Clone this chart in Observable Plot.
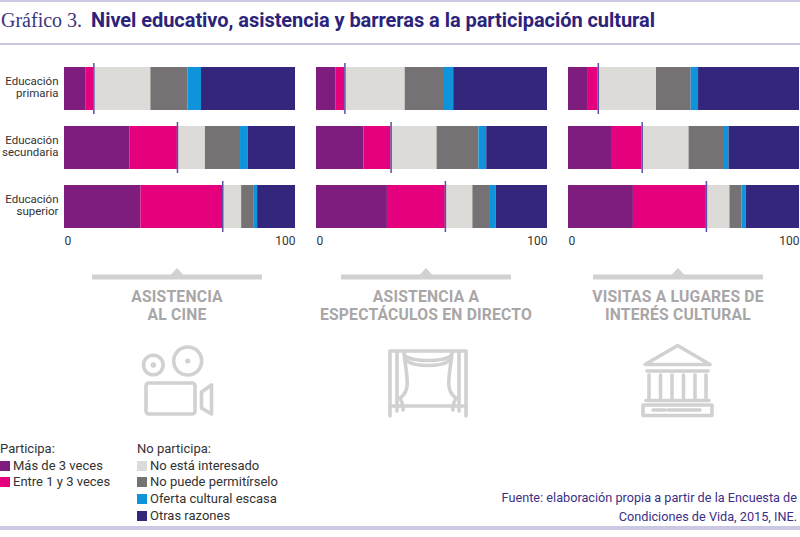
<!DOCTYPE html>
<html><head><meta charset="utf-8">
<script src="https://cdn.jsdelivr.net/npm/d3@7"></script>
<script src="https://cdn.jsdelivr.net/npm/@observablehq/plot@0.6"></script>
<style>
html,body{margin:0;padding:0;background:#fff;}
#wrap{position:relative;width:800px;height:537px;overflow:hidden;font-family:Roboto,"Open Sans",sans-serif;}
.abs{position:absolute;}
.hline{position:absolute;left:0;width:800px;background:#cbc8e3;}
#title{position:absolute;left:1px;top:6px;white-space:nowrap;color:#2c237a;line-height:28px;}
#title .num{font-family:"Liberation Serif","DejaVu Serif",serif;font-size:20px;color:#3a3480;}
#title .txt{font-family:Roboto,sans-serif;font-weight:bold;font-size:20px;margin-left:9px;letter-spacing:-0.05px;}
.head{position:absolute;width:260px;text-align:center;color:#a9a6a7;font-weight:bold;font-size:15.7px;line-height:17.5px;letter-spacing:0.2px;}
.leg{position:absolute;font-size:13px;color:#333;line-height:16.7px;white-space:nowrap;}
.sw{display:inline-block;width:10px;height:10px;margin-right:3px;vertical-align:-1px;}
#src{position:absolute;right:3px;top:489px;text-align:right;color:#3b2f87;font-size:12.7px;line-height:18.5px;}
</style></head>
<body>
<div id="wrap">
  <div class="hline" style="top:0;height:2px"></div>
  <div id="title"><span class="num">Gráfico 3.</span><span class="txt">Nivel educativo, asistencia y barreras a la participación cultural</span></div>
  <div class="hline" style="top:43px;height:2px"></div>
  <div id="chart" class="abs" style="left:0;top:55px"></div>
  <svg class="abs" style="left:0;top:255px" width="800" height="170" viewBox="0 255 800 170">
    <g fill="#d2d1d1">
      <path d="M92,274.5 H171 L177,268 L183,274.5 H262 V279.5 H92 Z"/>
      <path d="M341,274.5 H420 L426,268 L432,274.5 H511 V279.5 H341 Z"/>
      <path d="M593,274.5 H672 L678,268 L684,274.5 H763 V279.5 H593 Z"/>
    </g>
    <g fill="none" stroke="#d2d1d1" stroke-width="3.6" stroke-linecap="round" stroke-linejoin="round">
      <!-- camera -->
      <circle cx="153.3" cy="365" r="9.8"/>
      <circle cx="153.3" cy="365" r="1" fill="#d2d1d1"/>
      <circle cx="187.7" cy="361" r="14"/>
      <circle cx="187.7" cy="361" r="2.5" fill="#d2d1d1" stroke="none"/>
      <rect x="146" y="383" width="49" height="31" rx="3"/>
      <path d="M201.5,392 L211.5,385 V414 L201.5,408 Z"/>
      <!-- curtain -->
      <path d="M390,416 V351 H466 V416"/>
      <path d="M390,406 H466"/>
      <path d="M397,352 V411"/>
      <path d="M459,352 V411"/>
      <path d="M405,356 C414,362 442,362 451,356"/>
      <path d="M407,361 C416,367 440,367 449,361"/>
      <path d="M404,352 C406,375 412,390 400,398 C402,402 404,406 403,410"/>
      <path d="M452,352 C450,375 444,390 456,398 C454,402 452,406 453,410"/>
      <!-- temple -->
      <path d="M645,364.5 L677.7,345.5 L710,364.5 Z"/>
      <path d="M647,371 H708"/>
      <path d="M649,375 V398 M660.5,375 V398 M672,375 V398 M683.5,375 V398 M695,375 V398 M706,375 V398"/>
      <path d="M646,400.5 H709"/>
      <rect x="643" y="405" width="69" height="10.5"/>
      <path d="M653,410 H665 M668,410 H700"/>
    </g>
  </svg>
  <div class="head" style="left:47px;top:288px">ASISTENCIA<br>AL CINE</div>
  <div class="head" style="left:296px;top:288px">ASISTENCIA A<br>ESPECTÁCULOS EN DIRECTO</div>
  <div class="head" style="left:548px;top:288px">VISITAS A LUGARES DE<br>INTERÉS CULTURAL</div>
  <div id="leg1" class="leg" style="left:0;top:441px"></div>
  <div id="leg2" class="leg" style="left:137px;top:441px"></div>
  <div id="src">Fuente: elaboración propia a partir de la Encuesta de<br>Condiciones de Vida, 2015, INE.</div>
  <div class="hline" style="top:526px;height:4px"></div>
</div>
<script>
// ---- data ----
const categories = ["Más de 3 veces", "Entre 1 y 3 veces", "No está interesado", "No puede permitírselo", "Oferta cultural escasa", "Otras razones"];
const colors = ["#7f1d7e", "#e5007e", "#dcdbd7", "#767173", "#0f94db", "#33267c"];
const levels = ["Educación primaria", "Educación secundaria", "Educación superior"];
const activities = ["Asistencia al cine", "Asistencia a espectáculos en directo", "Visitas a lugares de interés cultural"];
// values per level (rows: primaria, secundaria, superior), in category order
const cineValues = [
  [9.4, 3.3, 24.7, 16.1, 5.8, 40.7],
  [28.4, 20.5, 12.1, 15.2, 3.4, 20.4],
  [33.1, 35.4, 8.2, 5.2, 1.7, 16.4]
];
const directoValues = [
  [8.5, 3.8, 26.1, 17.0, 4.0, 40.6],
  [20.5, 11.8, 19.9, 18.1, 3.4, 26.3],
  [30.7, 25.1, 11.9, 7.6, 2.5, 22.2]
];
const lugaresValues = [
  [8.6, 4.3, 25.2, 15.0, 3.2, 43.7],
  [19.0, 12.9, 20.3, 14.9, 2.4, 30.5],
  [28.1, 31.6, 10.2, 5.2, 1.9, 23.0]
];
const xTicks = [0, 100];
const participaLabel = "Participa:";
const noParticipaLabel = "No participa:";

// ---- build tables ----
const allValues = [cineValues, directoValues, lugaresValues];
const rows = [];
const part = [];
activities.forEach((a, ai) => {
  levels.forEach((l, li) => {
    const vals = allValues[ai][li];
    categories.forEach((c, ci) => rows.push({activity: a, level: l, category: c, value: vals[ci]}));
    part.push({activity: a, level: l, value: vals[0] + vals[1]});
  });
});

const chart = Plot.plot({
  width: 800,
  height: 200,
  marginLeft: 63,
  marginRight: 0,
  marginTop: 11.5,
  marginBottom: 26,
  style: {fontFamily: "Roboto, sans-serif", fontSize: "12px", color: "#333", background: "transparent"},
  fx: {domain: activities, axis: null, paddingInner: 0.083, paddingOuter: 0},
  x: {domain: [0, 100], axis: null},
  y: {domain: levels, paddingInner: 0.27, paddingOuter: 0, label: null},
  color: {domain: categories, range: colors},
  marks: [
    Plot.barX(rows, Plot.stackX({x: "value", y: "level", fx: "activity", fill: "category", order: categories})),
    Plot.tickX(part, {x: "value", y: "level", fx: "activity", stroke: "#5b4fa8", strokeWidth: 1.5, insetTop: -4, insetBottom: -4}),
    Plot.axisY({tickSize: 0, tickPadding: 6, fontSize: 11.5, tickFormat: d => d.replace(" ", "\n"), lineHeight: 1.1, dy: -2}),
    Plot.text(xTicks.filter(d => d === xTicks[0]), {x: d => d, frameAnchor: "bottom", lineAnchor: "middle", dy: 12, textAnchor: "start", fill: "#333", fontSize: 12}),
    Plot.text(xTicks.filter(d => d === xTicks[1]), {x: d => d, frameAnchor: "bottom", lineAnchor: "middle", dy: 12, textAnchor: "end", fill: "#333", fontSize: 12})
  ]
});
document.getElementById("chart").appendChild(chart);

// legend
function legendItems(el, header, idxs) {
  let html = `<div>${header}</div>`;
  idxs.forEach(i => { html += `<div><span class="sw" style="background:${colors[i]}"></span>${categories[i]}</div>`; });
  document.getElementById(el).innerHTML = html;
}
legendItems("leg1", participaLabel, [0, 1]);
legendItems("leg2", noParticipaLabel, [2, 3, 4, 5]);
</script>
</body></html>
